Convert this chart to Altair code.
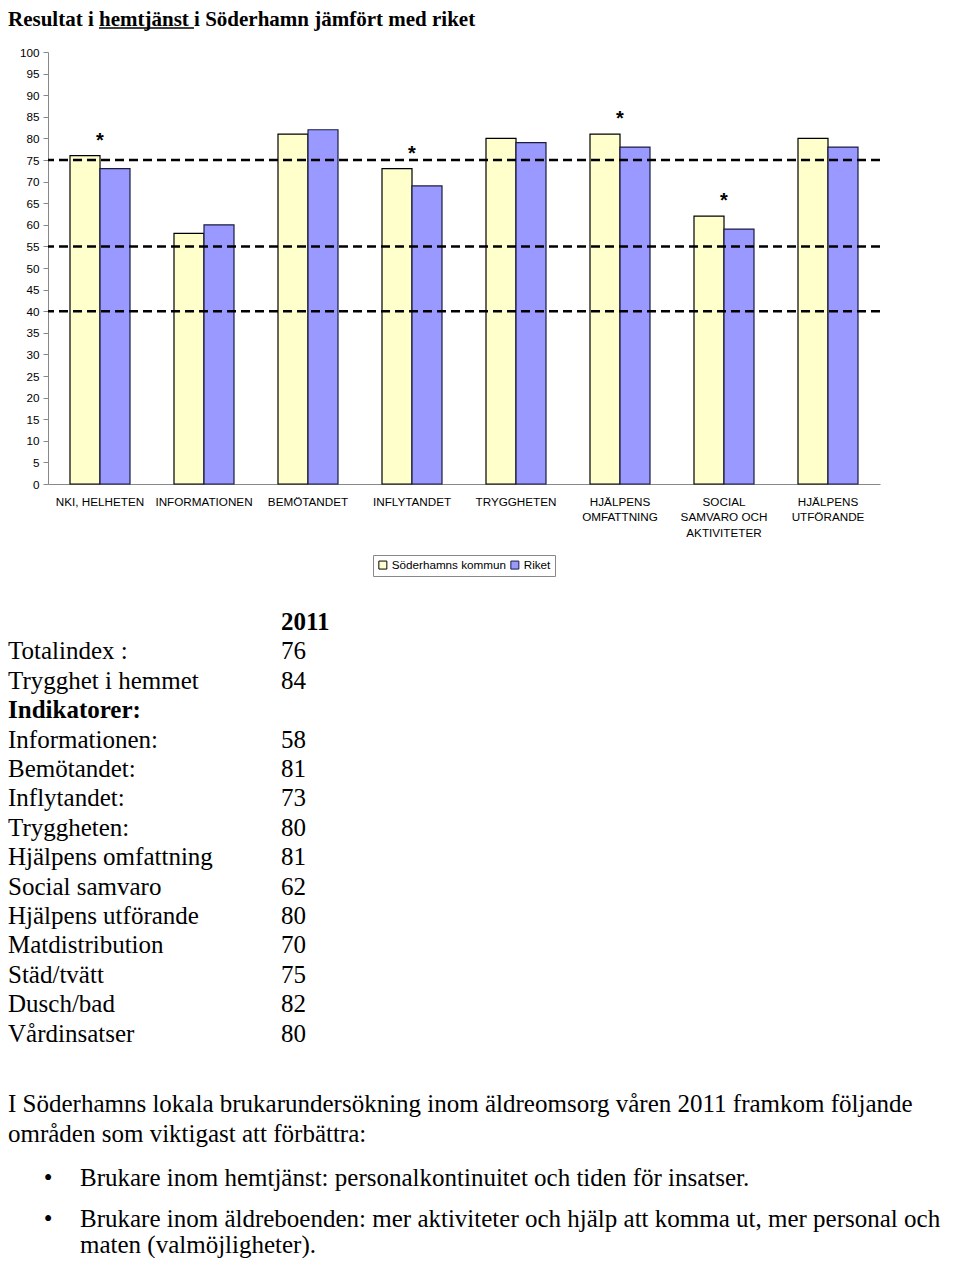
import altair as alt
import pandas as pd

# ---------------- data ----------------
categories = ["NKI, HELHETEN", "INFORMATIONEN", "BEMÖTANDET", "INFLYTANDET",
              "TRYGGHETEN", "HJÄLPENS|OMFATTNING", "SOCIAL|SAMVARO OCH|AKTIVITETER",
              "HJÄLPENS|UTFÖRANDE"]
soderhamn = [76, 58, 81, 73, 80, 81, 62, 80]
riket = [73, 60, 82, 69, 79, 78, 59, 78]
significant = [True, False, False, True, False, True, True, False]
series_names = ["Söderhamns kommun", "Riket"]
reference_levels = [75, 55, 40]
y_ticks = list(range(0, 101, 5))

title_text = "Resultat i hemtjänst i Söderhamn jämfört med riket"
table_header = "2011"
table_labels = ["Totalindex :", "Trygghet i hemmet", "Indikatorer:", "Informationen:",
                "Bemötandet:", "Inflytandet:", "Tryggheten:", "Hjälpens omfattning",
                "Social samvaro", "Hjälpens utförande", "Matdistribution", "Städ/tvätt",
                "Dusch/bad", "Vårdinsatser"]
table_values = [76, 84, None, 58, 81, 73, 80, 81, 62, 80, 70, 75, 82, 80]
bold_labels = ["Indikatorer:"]
paragraph_lines = ["I Söderhamns lokala brukarundersökning inom äldreomsorg våren 2011 framkom följande",
                   "områden som viktigast att förbättra:"]
bullet_items = [["Brukare inom hemtjänst: personalkontinuitet och tiden för insatser."],
                ["Brukare inom äldreboenden: mer aktiviteter och hjälp att komma ut, mer personal och",
                 "maten (valmöjligheter)."]]

# ---------------- tables ----------------
bar_df = pd.DataFrame({
    "cat": categories * 2,
    "series": [series_names[0]] * len(categories) + [series_names[1]] * len(categories),
    "value": soderhamn + riket,
})
star_df = pd.DataFrame({"cat": categories, "s": soderhamn, "r": riket, "sig": significant})
level_df = pd.DataFrame({"level": reference_levels})
rows_df = pd.DataFrame({
    "row": list(range(1, len(table_labels) + 1)),
    "label": table_labels,
    "value": [("" if v is None else str(v)) for v in table_values],
    "bold": [l in bold_labels for l in table_labels],
})
header_df = pd.DataFrame({"row": [0], "label": [table_header]})
one = pd.DataFrame({"k": [0]})

SANS = "Liberation Sans"
SERIF = "Liberation Serif"

x_axis = alt.Axis(title=None, labelAngle=0, labelExpr="split(datum.label, '|')",
                  labelFontSize=11.7, labelFont=SANS, labelColor="black",
                  labelPadding=12, labelLineHeight=15.5, labelBaseline="top",
                  ticks=False, domainColor="#888888", labelLimit=200)
y_axis = alt.Axis(title=None, values=y_ticks, grid=False, tickSize=5,
                  tickColor="#888888", domainColor="#888888",
                  labelFontSize=11.7, labelFont=SANS, labelColor="black",
                  labelPadding=4, labelOverlap=False)
y_scale = alt.Scale(domain=[0, 100], nice=False)
x_scale = alt.Scale(paddingInner=0.423, paddingOuter=0.2115)

bars = alt.Chart(bar_df).mark_bar(strokeWidth=1.2).encode(
    x=alt.X("cat:N", sort=categories, scale=x_scale, axis=x_axis),
    xOffset=alt.XOffset("series:N", sort=series_names,
                        scale=alt.Scale(paddingInner=0, paddingOuter=0)),
    y=alt.Y("value:Q", scale=y_scale, axis=y_axis),
    color=alt.Color("series:N", sort=series_names,
                    scale=alt.Scale(domain=series_names, range=["#FFFFCC", "#9999FF"]),
                    legend=alt.Legend(title=None, orient="none", legendX=325, legendY=503,
                                      direction="horizontal", symbolType="square",
                                      symbolSize=64, symbolStrokeColor="black",
                                      symbolStrokeWidth=1, labelFontSize=11.7,
                                      labelFont=SANS, labelColor="black",
                                      strokeColor="#888888", fillColor="white",
                                      padding=4, columnPadding=1, labelOffset=3)),
    stroke=alt.Stroke("series:N", sort=series_names,
                      scale=alt.Scale(domain=series_names, range=["#000000", "#1c1c40"]),
                      legend=None),
)

rules = alt.Chart(level_df).mark_rule(strokeDash=[9, 5], strokeWidth=2.5, color="black").encode(
    y=alt.Y("level:Q", scale=y_scale, axis=y_axis)
)

stars = alt.Chart(star_df).transform_filter("datum.sig").transform_calculate(
    top="max(datum.s, datum.r)"
).mark_text(text="*", fontSize=20, fontWeight="bold", font=SANS, dy=-9,
            baseline="alphabetic", color="black").encode(
    x=alt.X("cat:N", sort=categories, scale=x_scale, axis=x_axis),
    y=alt.Y("top:Q", scale=y_scale, axis=y_axis),
)

bar_layer = alt.layer(bars, rules, stars)

row_y = alt.Y("row:Q", scale=alt.Scale(domain=[0, 14], range=[578, 989.6], nice=False, zero=False),
              axis=None)

labels_normal = alt.Chart(rows_df).transform_filter("!datum.bold").mark_text(
    align="left", baseline="alphabetic", font=SERIF, fontSize=25, color="black"
).encode(x=alt.value(-40), y=row_y, text="label:N")

labels_bold = alt.Chart(rows_df).transform_filter("datum.bold").mark_text(
    align="left", baseline="alphabetic", font=SERIF, fontSize=25, fontWeight="bold", color="black"
).encode(x=alt.value(-40), y=row_y, text="label:N")

values_layer = alt.Chart(rows_df).transform_filter("datum.value != ''").mark_text(
    align="left", baseline="alphabetic", font=SERIF, fontSize=25, color="black"
).encode(x=alt.value(233), y=row_y, text="value:N")

header_layer = alt.Chart(header_df).mark_text(
    align="left", baseline="alphabetic", font=SERIF, fontSize=25, fontWeight="bold", color="black"
).encode(x=alt.value(233), y=row_y, text="label:N")

title_layer = alt.Chart(one).mark_text(
    text=title_text, align="left", baseline="alphabetic", font=SERIF, fontSize=21,
    fontWeight="bold", color="black"
).encode(x=alt.value(-40), y=alt.value(-26))

underline = alt.Chart(one).mark_rule(color="black", strokeWidth=1.5).encode(
    x=alt.value(51), x2=alt.value(146), y=alt.value(-24)
)

para_layer = alt.Chart(one).mark_text(
    text=paragraph_lines, align="left", baseline="alphabetic", font=SERIF, fontSize=25,
    lineHeight=30, color="black"
).encode(x=alt.value(-40), y=alt.value(1060))

bullet_layers = []
bullet_y = [1134, 1175]
for item, by in zip(bullet_items, bullet_y):
    bullet_layers.append(alt.Chart(one).mark_text(
        text="•", align="center", baseline="alphabetic", font=SERIF, fontSize=25, color="black"
    ).encode(x=alt.value(0), y=alt.value(by)))
    bullet_layers.append(alt.Chart(one).mark_text(
        text=item, align="left", baseline="alphabetic", font=SERIF, fontSize=25,
        lineHeight=26, color="black"
    ).encode(x=alt.value(32), y=alt.value(by)))

chart = alt.layer(
    bar_layer, labels_normal, labels_bold, values_layer, header_layer,
    title_layer, underline, para_layer, *bullet_layers
).resolve_scale(y="independent").properties(
    width=832, height=432,
    autosize=alt.AutoSizeParams(type="none"),
    padding={"left": 40, "top": 44, "right": 72, "bottom": 774},
).configure(font=SANS, background="white").configure_view(stroke="transparent", strokeWidth=0)

chart.save("out.html", embed_options={"renderer": "svg", "actions": False})
